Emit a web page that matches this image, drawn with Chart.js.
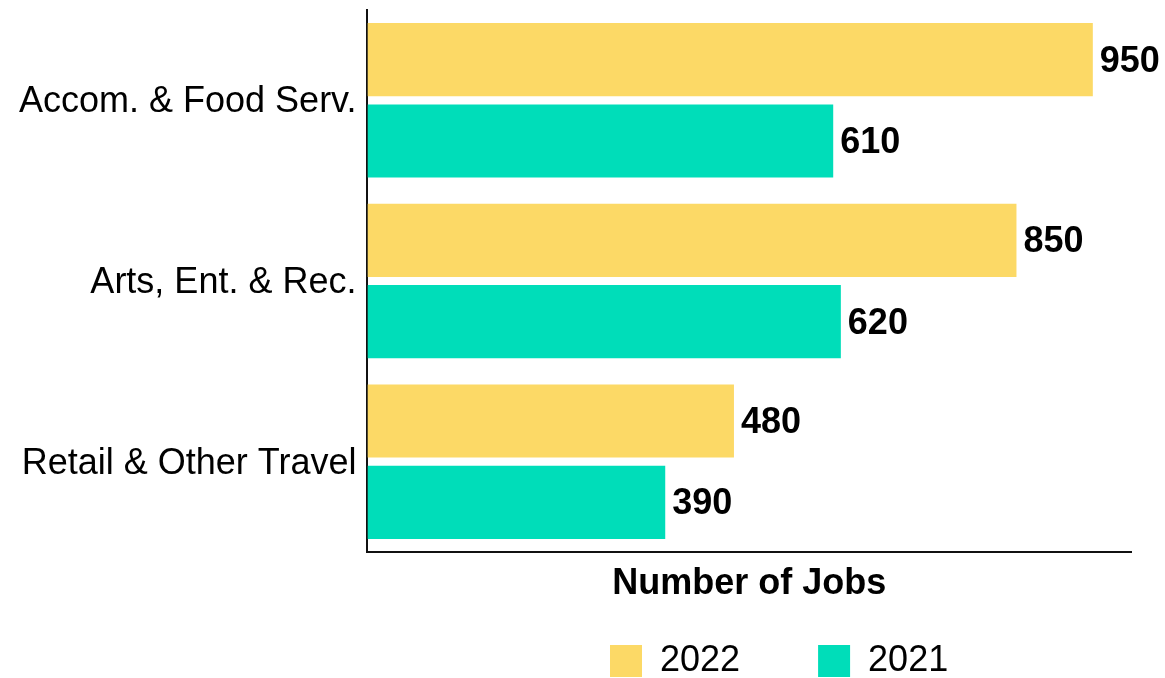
<!DOCTYPE html>
<html>
<head>
<meta charset="utf-8">
<script src="https://cdn.jsdelivr.net/npm/chart.js@4/dist/chart.umd.min.js"></script>
<style>
  html, body { margin: 0; padding: 0; background: #fff; }
  #wrap { width: 1165px; height: 678px; }
</style>
</head>
<body>
<div id="wrap"><canvas id="c" width="1165" height="678"></canvas></div>
<script>
const categories = ["Accom. & Food Serv.", "Arts, Ent. & Rec.", "Retail & Other Travel"];
const seriesNames = ["2022", "2021"];
const jobs2022 = [950, 850, 480];
const jobs2021 = [610, 620, 390];
const axisTitle = "Number of Jobs";
const xMin = 0;
const xMax = 1000;

const FONT = '"Liberation Sans", Arial, Helvetica, sans-serif';
Chart.defaults.font.family = FONT;
Chart.defaults.color = '#000';

const barValueLabels = {
  id: 'barValueLabels',
  afterDatasetsDraw(chart) {
    const ctx = chart.ctx;
    ctx.save();
    ctx.font = 'bold 36px ' + FONT;
    ctx.fillStyle = '#000';
    ctx.textAlign = 'left';
    ctx.textBaseline = 'middle';
    chart.data.datasets.forEach((ds, i) => {
      const meta = chart.getDatasetMeta(i);
      meta.data.forEach((bar, j) => {
        ctx.fillText(String(ds.data[j]), bar.x + 7, bar.y + 2);
      });
    });
    ctx.restore();
  }
};

const legendPlacement = {
  id: 'legendPlacement',
  afterLayout(chart, args, opts) {
    const lg = chart.legend;
    if (!lg) return;
    const pad = chart.options.plugins.legend.labels.padding;
    lg.left = opts.itemsLeft - pad;
    lg.top = opts.itemsTop - pad;
  }
};

new Chart(document.getElementById('c'), {
  type: 'bar',
  data: {
    labels: categories,
    datasets: [
      { label: seriesNames[0], data: jobs2022, backgroundColor: '#FCD966', borderWidth: 0,
        barPercentage: 0.9, categoryPercentage: 0.9 },
      { label: seriesNames[1], data: jobs2021, backgroundColor: '#00DDB9', borderWidth: 0,
        barPercentage: 0.9, categoryPercentage: 0.9 }
    ]
  },
  options: {
    indexAxis: 'y',
    responsive: false,
    animation: false,
    layout: { padding: { top: 10, right: 34, left: 8, bottom: 0 } },
    scales: {
      x: {
        min: xMin,
        max: xMax,
        grid: { display: false, drawTicks: false },
        ticks: { display: false },
        border: { display: true, color: '#111', width: 2 },
        title: {
          display: true,
          text: axisTitle,
          font: { size: 36, weight: 'bold', lineHeight: 1.2 },
          color: '#000',
          padding: { top: 10.4, bottom: 19.4 }
        }
      },
      y: {
        grid: { display: false, drawTicks: false },
        ticks: { font: { size: 36 }, color: '#000', padding: 11, labelOffset: 2 },
        border: { display: true, color: '#111', width: 2 },
        afterFit(scale) {
          scale.paddingTop = 0;
          scale.paddingBottom = 0;
        }
      }
    },
    plugins: {
      legend: {
        position: 'bottom',
        align: 'start',
        maxHeight: 53,
        labels: {
          font: { size: 36 },
          color: '#000',
          boxWidth: 32,
          boxHeight: 32,
          padding: 78
        }
      },
      tooltip: { enabled: false },
      legendPlacement: { itemsLeft: 610, itemsTop: 643 }
    }
  },
  plugins: [barValueLabels, legendPlacement]
});
</script>
</body>
</html>
